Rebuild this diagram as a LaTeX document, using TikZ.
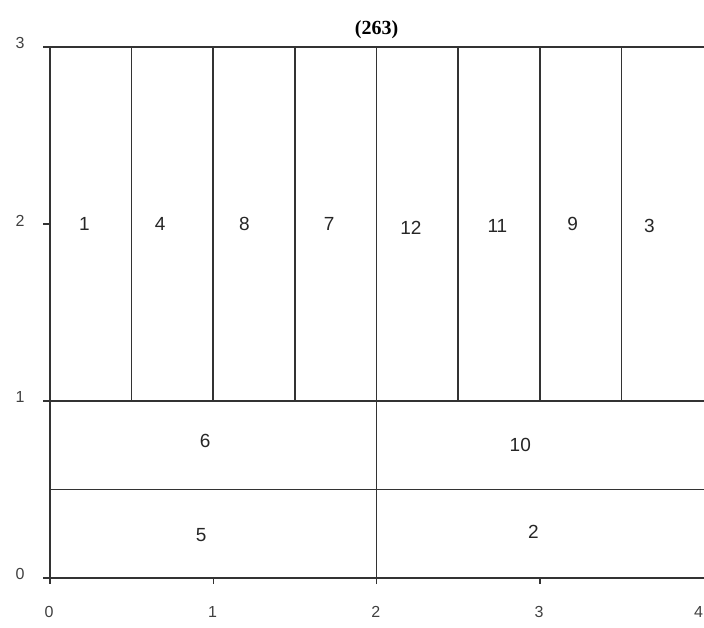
\documentclass[tikz,border=0pt]{standalone}
\usepackage{fontspec}
\setmainfont{Liberation Sans}
\newfontfamily\titlefont{Liberation Serif}
\begin{document}
\begin{tikzpicture}[x=163.3pt,y=177pt,
  grid/.style={draw=black!80,line width=1.7pt},
  tickline/.style={draw=black!80,line width=1.4pt},
  cell/.style={font=\fontsize{19}{19}\selectfont,text=black!85,inner sep=0pt},
  ticklab/.style={font=\fontsize{16}{16}\selectfont,text=black!75,inner sep=0pt}]
\useasboundingbox (-0.3062,-0.2825) rectangle (4.005,3.2655);
% outer frame lines
\draw[grid] (0,0) coordinate (o) -- (0,3) coordinate (tl);
\draw[grid] (-0.04,0) -- (4.005,0);
\draw[grid] (tl) -- (4.005,3);
\draw[grid] (0,1) -- (4.005,1);
\draw[grid] (0,0.5) -- (4.005,0.5);
\draw[grid] (2,-0.035) -- (2,1);
\foreach \x in {0.5,1,1.5,2,2.5,3,3.5} {\draw[grid] (\x,1) -- (\x,3);}
% ticks
\foreach \y in {1,2,3} {\draw[tickline] (-0.04,\y) -- (0,\y);}
\foreach \x in {0,1,3} {\draw[tickline] (\x,0) -- (\x,-0.035);}
% tick labels
\foreach \y in {0,1,2,3} {\node[ticklab] (ty\y) at (-0.184,\y+0.02) {\y};}
\foreach \x in {0,1,2,3} {\node[ticklab] (tx\x) at (\x-0.005,-0.19) {\x};}
\node[ticklab,anchor=east] (tx4) at (4.0,-0.19) {4};
% title
\node[font=\titlefont\bfseries\fontsize{20}{20}\selectfont,inner sep=0pt] (title) at (2,3.1) {(263)};
% cell labels
\node[cell] (c1) at (0.21,2.0) {1};
\node[cell] (c4) at (0.675,2.0) {4};
\node[cell] (c8) at (1.19,2.0) {8};
\node[cell] (c7) at (1.71,2.0) {7};
\node[cell] (c12) at (2.21,1.98) {12};
\node[cell] (c11) at (2.74,1.99) {11};
\node[cell] (c9) at (3.2,2.0) {9};
\node[cell] (c3) at (3.67,1.99) {3};
\node[cell] (c6) at (0.95,0.775) {6};
\node[cell] (c10) at (2.88,0.75) {10};
\node[cell] (c5) at (0.925,0.245) {5};
\node[cell] (c2) at (2.96,0.26) {2};
\end{tikzpicture}
\end{document}
